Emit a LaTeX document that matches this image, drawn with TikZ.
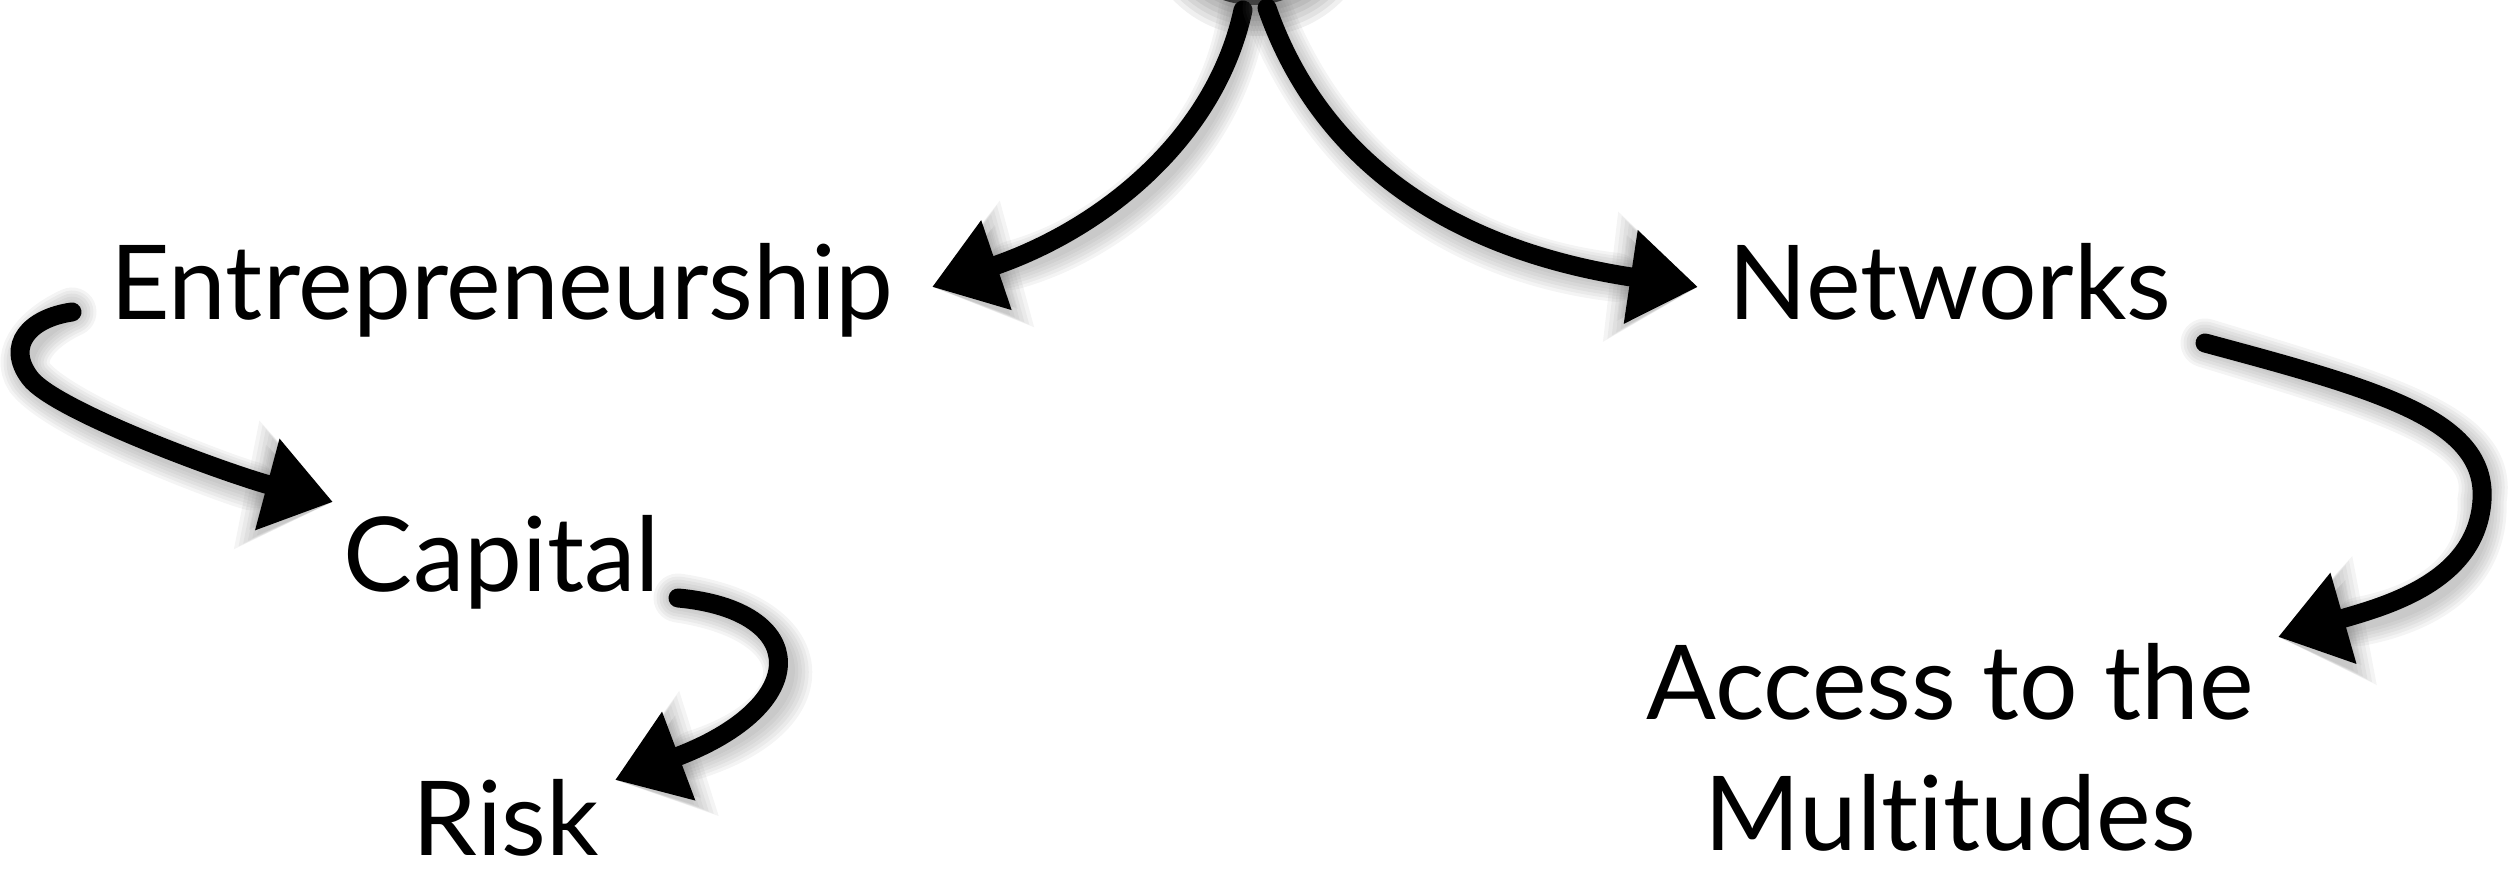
\documentclass[tikz,border=0pt]{standalone}
\usepackage{fontspec}
\setmainfont{Lato}[Ligatures=NoCommon]
\usetikzlibrary{arrows.meta}
\tikzset{
  chalk/.style={black, line width=0.19cm, line cap=round,
    -{Triangle[length=0.68cm, width=0.9cm]}},
  label/.style={font=\fontsize{29.4pt}{37.3pt}\selectfont, inner sep=0pt, anchor=base, align=center},
}
\newcommand\mychalkarrow[1]{%
  \begin{scope}[shift={(0.09cm,-0.09cm)}]
    \foreach \k in {0,...,5} {
      \pgfmathsetmacro\myL{0.68+0.04*\k}
      \pgfmathsetmacro\myW{0.9+0.07*\k}
      \draw[black!60, opacity=0.07, line cap=round, line width={0.19cm+\k*0.06cm},
        -{Triangle[length=\myL cm, width=\myW cm]}] #1;
    }
  \end{scope}
  \draw[chalk] #1;
}
\begin{document}
\begin{tikzpicture}[x=0.01cm, y=-0.01cm]
\useasboundingbox (0,0) rectangle (2509,871);
% top blob (bottom of a node above the picture)
\foreach \k in {0,...,5} {
  \fill[black, opacity=0.06] (1258,-82) circle ({93+\k*5});
}
\shade[top color=gray!45, bottom color=black!85] (1253,-87) circle (92);
\node[circle, minimum size=1.84cm, inner sep=0pt] (top) at (1253,-87) {};

% text nodes
\node[label] (ent) at (502,320) {Entrepreneurship};
\node[label] (net) at (1950,320) {Networks};
\node[label] (cap) at (502,592) {Capital};
\node[label] (risk) at (506,856) {Risk};
\node[label] (acc) at (1950,851) {Access to the\\Multitudes};

% arrow end points
\coordinate (s1) at (1243,10);
\coordinate (e1) at (932,287);
\coordinate (s2) at (1267,8);
\coordinate (e2) at (1698,287);
\coordinate (s3) at (72,312);
\coordinate (m3) at (30,378);
\coordinate (e3) at (333,502);
\coordinate (s4) at (678,598);
\coordinate (e4) at (615,780);
\coordinate (s5) at (2205,343);
\coordinate (m5) at (2482,500);
\coordinate (e5) at (2278,637);

\mychalkarrow{(s1) .. controls (1215,140) and (1100,230) .. (e1)}
\mychalkarrow{(s2) .. controls (1320,160) and (1450,250) .. (e2)}
\mychalkarrow{(s3) .. controls (30,318) and (5,345) .. (m3) .. controls (55,411) and (228,474) .. (e3)}
\mychalkarrow{(s4) .. controls (810,610) and (815,705) .. (e4)}
\mychalkarrow{(s5) .. controls (2380,390) and (2487,420) .. (m5) .. controls (2477,580) and (2390,605) .. (e5)}
\end{tikzpicture}
\end{document}
